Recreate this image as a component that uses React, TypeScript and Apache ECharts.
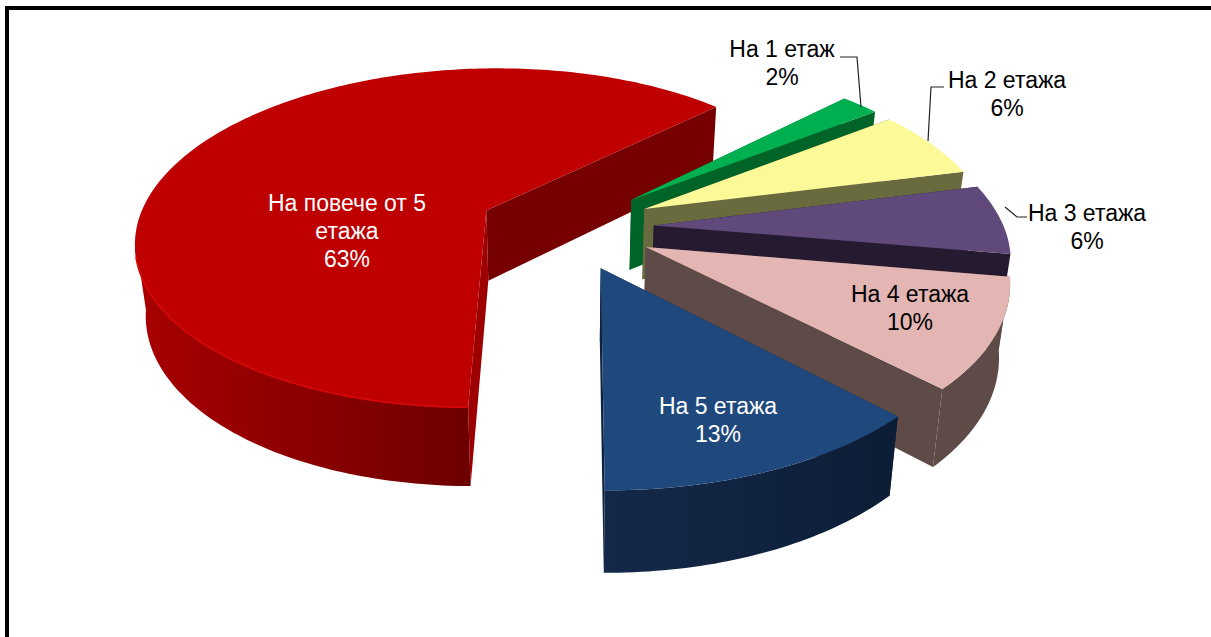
import React, { useEffect, useRef } from "react";
import * as echarts from "echarts";

// Draw order is back to front, clockwise from the red slice.
const categories = ["На повече от 5\nетажа", "На 1 етаж", "На 2 етажа", "На 3 етажа", "На 4 етажа", "На 5 етажа"];
// Shares; the labels show them rounded.
const shares = [62.6, 2.1, 6.4, 6.4, 9.9, 12.6];

const topColors = ["#BE0000", "#00B050", "#FBF998", "#604A7B", "#E3B5B3", "#1F497D"];
const radialColors = ["#760000", "#006428", "#6A6A3F", "#261A30", "#5E4A47", "#0E2240"];
const firstRadialColors = ["#9C0000", "#006428", "#6A6A3F", "#261A30", "#5E4A47", "#0E2240"];
const wallLeft = ["#A80000", "#006428", "#6A6A3F", "#261A30", "#5E4A47", "#14294A"];
const wallRight = ["#6E0000", "#006428", "#6A6A3F", "#261A30", "#5E4A47", "#0C1D35"];
const rimColors = ["#D80808", null, null, null, null, null];
const textColors = ["#FFFFFF", "#000000", "#000000", "#000000", "#000000", "#FFFFFF"];

// label anchors: [centre x, top y]
const labelAnchors = [[347, 189], [782, 35], [1007, 66], [1087, 199], [910, 280], [718, 392]];
// leader lines
const leaders: number[][][] = [
  [],
  [[840, 57], [857, 57], [861, 107]],
  [[944, 87], [931, 87], [928, 141]],
  [[1027, 217], [1017, 217], [1005, 207]],
  [],
  [],
];

const CX = 566;
const CY = 227;
const R = 350;
const K = 0.487;
const P = 0.164;
const DEPTH = 71;
const DEPTH_SCALE = 0.025;
const EXPLODE = 88;
const START_DEG = 180.4;

function project(X: number, Y: number, down: number): number[] {
  const persp = 1 / (1 - (P * Y) / R);
  const s = persp * (1 - DEPTH_SCALE * down);
  return [CX + X * s, CY + K * Y * s + DEPTH * down * persp];
}

function renderSlice(params: any, api: any) {
  const i = params.dataIndex;
  const value = api.value(0);
  const total = shares.reduce((a, b) => a + b, 0);
  let before = 0;
  for (let j = 0; j < i; j++) before += shares[j];
  const a0 = START_DEG + (before / total) * 360;
  const a1 = a0 + (value / total) * 360;
  const mid = ((a0 + a1) / 2) * (Math.PI / 180);
  const ox = EXPLODE * Math.sin(mid);
  const oy = -EXPLODE * Math.cos(mid);

  const at = (deg: number, down: number) => {
    const t = deg * (Math.PI / 180);
    return project(ox + R * Math.sin(t), oy - R * Math.cos(t), down);
  };
  const apex = (down: number) => project(ox, oy, down);

  const steps = Math.max(8, Math.round(a1 - a0));
  const arc: number[] = [];
  for (let k = 0; k <= steps; k++) arc.push(a0 + ((a1 - a0) * k) / steps);
  const topArc = arc.map((d) => at(d, 0));

  // Outer wall only where it faces the viewer.
  const visible = arc.filter((d) => -Math.cos((d * Math.PI) / 180) > P * 0.9);
  const children: any[] = [];

  children.push({
    type: "polygon",
    shape: { points: [apex(0), at(a0, 0), at(a0, 1), apex(1)] },
    style: { fill: firstRadialColors[i] },
  });
  children.push({
    type: "polygon",
    shape: { points: [apex(0), at(a1, 0), at(a1, 1), apex(1)] },
    style: { fill: radialColors[i] },
  });
  if (visible.length > 1) {
    const wall = [...visible.map((d) => at(d, 0)), ...visible.slice().reverse().map((d) => at(d, 1))];
    children.push({
      type: "polygon",
      shape: { points: wall },
      style: {
        fill: new echarts.graphic.LinearGradient(0, 0, 1, 0, [
          { offset: 0, color: wallLeft[i] },
          { offset: 1, color: wallRight[i] },
        ]),
      },
    });
  }
  children.push({
    type: "polygon",
    shape: { points: [apex(0), ...topArc] },
    style: { fill: topColors[i] },
  });
  if (rimColors[i] && visible.length > 1) {
    children.push({
      type: "polyline",
      shape: { points: visible.slice(0, -6).map((d) => at(d, 0)) },
      style: { stroke: rimColors[i], lineWidth: 1.6, fill: "none" },
    });
  }
  if (leaders[i].length) {
    children.push({
      type: "polyline",
      shape: { points: leaders[i] },
      style: { stroke: "#222222", lineWidth: 1.2, fill: "none" },
    });
  }
  children.push({
    type: "text",
    style: {
      text: `${categories[i]}\n${Math.round(value)}%`,
      x: labelAnchors[i][0],
      y: labelAnchors[i][1],
      align: "center",
      verticalAlign: "top",
      fontSize: 23,
      fontFamily: "Liberation Sans",
      lineHeight: 28,
      fill: textColors[i],
    },
  });
  return { type: "group", children };
}

export default function App() {
  const ref = useRef<HTMLDivElement>(null);
  useEffect(() => {
    document.body.style.margin = "0";
    const chart = echarts.init(ref.current!, undefined, { renderer: "svg" });
    chart.setOption({
      animation: false,
      backgroundColor: "#FFFFFF",
      graphic: [
        { type: "rect", shape: { x: 5, y: 6, width: 1206, height: 4 }, style: { fill: "#000000" }, silent: true },
        { type: "rect", shape: { x: 5, y: 6, width: 4, height: 631 }, style: { fill: "#000000" }, silent: true },
      ],
      series: [
        {
          type: "custom",
          coordinateSystem: "none",
          renderItem: renderSlice,
          data: shares.map((v, i) => ({ name: categories[i], value: [v] })),
          silent: true,
        },
      ],
    });
    return () => chart.dispose();
  }, []);
  return <div ref={ref} style={{ width: 1211, height: 637 }} />;
}
